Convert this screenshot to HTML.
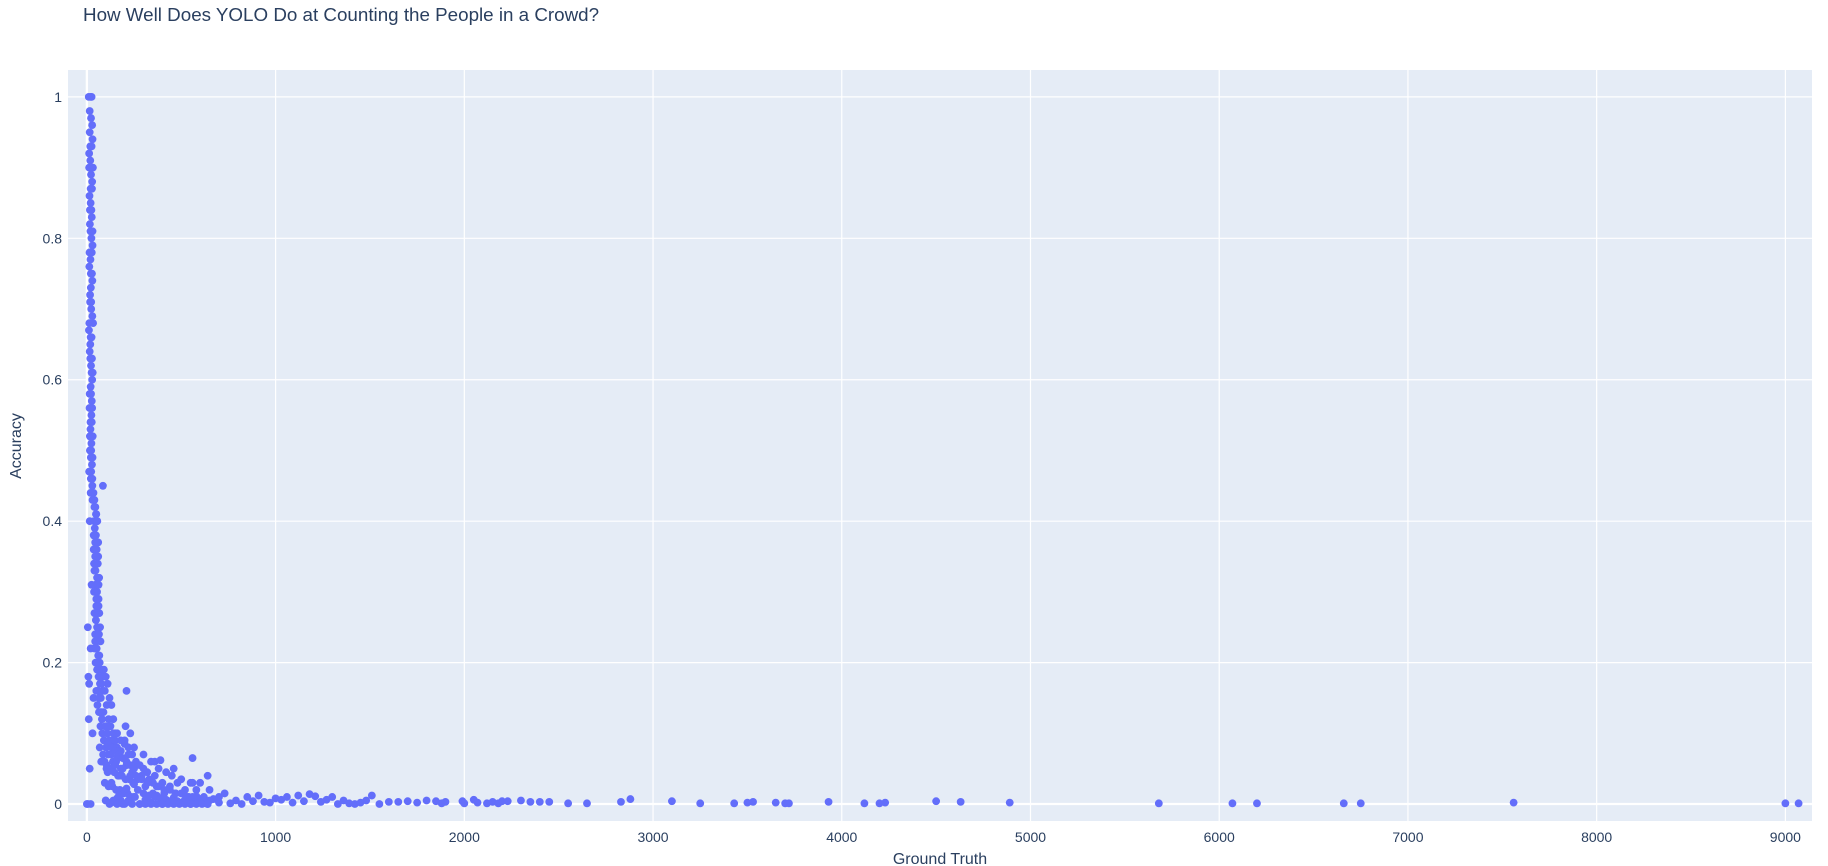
<!DOCTYPE html>
<html><head><meta charset="utf-8"><style>
body{margin:0;background:#fff;}
svg{display:block;font-family:"Liberation Sans",sans-serif;}
</style></head><body>
<svg id="chart" width="1828" height="866">
<rect width="1828" height="866" fill="#fff"/>
<text x="83" y="21" font-size="18.8" fill="#2a3f5f">How Well Does YOLO Do at Counting the People in a Crowd?</text>
<rect x="68" y="70" width="1744" height="751" fill="#e5ecf6"/>
<g id="grid"></g>
<g id="ticks"></g>
<g id="points"></g>
<text x="940" y="864" font-size="16" fill="#2a3f5f" text-anchor="middle">Ground Truth</text>
<text x="0" y="0" font-size="16" fill="#2a3f5f" text-anchor="middle" transform="translate(21,446) rotate(-90)">Accuracy</text>
</svg>
<script>
const xTicks=[0,1000,2000,3000,4000,5000,6000,7000,8000,9000];
const yTicks=[0,0.2,0.4,0.6,0.8,1];
const yTickLabels=["0","0.2","0.4","0.6","0.8","1"];
const gtA=[10,20,25,15,30,12,18,22,28,14,20,26,16,24,30,19,13,27,21,17,23,29,11,25,18,15,22,28,20,26,14,24,19,31,16,23,27,12,21,29];
const accA=[1,1,1,0.95,0.94,0.92,0.91,0.89,0.88,0.86,0.85,0.83,0.82,0.8,0.79,0.77,0.76,0.75,0.73,0.72,0.7,0.69,0.67,0.66,0.65,0.64,0.62,0.6,0.59,0.57,0.56,0.55,0.53,0.52,0.5,0.5,0.48,0.47,0.46,0.45];
const gtB=[35,40,45,50,38,55,42,48,60,36,52,44,58,40,65,46,54,38,62,50,42,56,48,70,44,60,52,40,66,58,5,8,10,15,20,0,5,30,15,25,20,35,30,85,12];
const accB=[0.44,0.43,0.42,0.41,0.4,0.4,0.39,0.38,0.37,0.36,0.35,0.35,0.34,0.33,0.32,0.31,0.3,0.3,0.29,0.28,0.27,0.27,0.26,0.25,0.24,0.24,0.23,0.22,0.21,0.2,0.25,0.18,0.12,0.05,0,0,0,0.43,0.4,0.31,0.22,0.15,0.1,0.45,0.17];
const gtC=[60,75,90,80,100,70,110,85,95,120,65,105,130,78,88,115,140,72,98,125,150,82,108,135,92,118,160,68,102,145,86,112,128,170,94,138,76,155,104,180];
const accC=[0.2,0.19,0.19,0.18,0.18,0.17,0.17,0.16,0.16,0.15,0.15,0.14,0.14,0.13,0.13,0.12,0.12,0.11,0.11,0.11,0.1,0.1,0.1,0.09,0.09,0.09,0.08,0.08,0.08,0.08,0.07,0.07,0.07,0.07,0.06,0.06,0.06,0.06,0.05,0.05];
const gtD=[150,200,250,180,220,300,160,260,340,210,280,380,190,240,320,420,170,230,290,360,450,500,270,330,400,480,550,600,310,370,440,520,580,650,350,410,470,540,620,700,210,230,300,360,390,460,560,640,205,560];
const accD=[0.09,0.085,0.08,0.075,0.07,0.07,0.065,0.06,0.06,0.055,0.055,0.05,0.05,0.045,0.045,0.045,0.04,0.04,0.04,0.04,0.04,0.035,0.035,0.035,0.03,0.03,0.03,0.03,0.025,0.025,0.025,0.02,0.02,0.02,0.015,0.015,0.015,0.01,0.01,0.01,0.16,0.1,0.05,0.06,0.062,0.05,0.03,0.04,0.11,0.065];
const gtE=[100,130,160,190,220,250,280,310,340,370,400,430,460,490,520,550,580,610,640,670,700,730,760,790,820,850,880,910,940,970,1000,1030,1060,1090,1120,1150,1180,1210,1240,1270,1300,1330,1360,1390,1420,1450,1480,1510,1550,1600,1650,1700,1750,1800,1850,1880,1900,1990,2000,2050,2070,2120,2150,2180,2200,2230,2300,2350,2400,2450,2550,2650,2830,2880,3100,3250,3430,3500,3530,3650,3700,3720,3930,4120,4200,4230,4500,4630,4890,5680,6070,6200,6660,6750,7560,9000,9070];
const accE=[0.005,0.002,0.008,0,0.003,0.01,0,0.006,0.002,0.012,0,0.004,0.009,0.001,0.006,0,0.011,0.003,0,0.007,0.002,0.015,0.001,0.005,0,0.01,0.004,0.012,0.003,0.002,0.008,0.006,0.01,0.002,0.012,0.004,0.014,0.011,0.003,0.006,0.01,0,0.005,0.001,0,0.002,0.005,0.012,0,0.003,0.003,0.004,0.002,0.005,0.004,0.001,0.003,0.004,0.001,0.006,0.002,0.001,0.003,0.001,0.004,0.004,0.005,0.003,0.003,0.003,0.001,0.001,0.003,0.007,0.004,0.001,0.001,0.002,0.003,0.002,0.001,0.001,0.003,0.001,0.001,0.002,0.004,0.003,0.002,0.001,0.001,0.001,0.001,0.001,0.002,0.001,0.001];
const gtF=[15,22,28,18,25,32,12,20,27,16,24,30,19,26,14,21,29,17,23,33,13,20,27,18,25,31,15,22,28,19,26,16,24,30,21,17,23,29,20,26];
const accF=[0.98,0.97,0.96,0.93,0.93,0.9,0.9,0.87,0.87,0.84,0.84,0.81,0.81,0.78,0.78,0.75,0.74,0.71,0.71,0.68,0.68,0.66,0.63,0.63,0.61,0.61,0.58,0.58,0.56,0.54,0.54,0.52,0.51,0.49,0.49,0.47,0.47,0.46,0.44,0.44];
const gtG=[40,48,55,36,44,52,60,38,46,54,62,42,50,58,66,40,48,56,64,72,44,52,60,68,46,54,62,70,78,50,58,66,74,48,56,64,72,80,54,62];
const accG=[0.42,0.41,0.4,0.38,0.37,0.36,0.35,0.34,0.33,0.32,0.31,0.3,0.29,0.28,0.27,0.27,0.26,0.25,0.24,0.23,0.23,0.22,0.21,0.2,0.2,0.19,0.18,0.17,0.17,0.16,0.16,0.15,0.15,0.22,0.14,0.13,0.13,0.12,0.25,0.28];
const gtH=[80,100,120,140,160,180,200,220,240,90,110,130,150,170,190,210,230,250,85,105,125,145,165,185,205,225,245,95,115,135,155,175,195,215,235,255,100,140,180,220,120,160,200,240,130,170,210,250,110,150];
const accH=[0.12,0.11,0.11,0.1,0.1,0.09,0.09,0.08,0.07,0.09,0.085,0.08,0.075,0.07,0.065,0.06,0.055,0.05,0.06,0.055,0.05,0.045,0.04,0.04,0.035,0.035,0.03,0.03,0.025,0.025,0.02,0.02,0.015,0.015,0.01,0.01,0.005,0.005,0.005,0.005,0,0,0,0,0.03,0.012,0.022,0.028,0.045,0.055];
const gtI=[260,290,320,350,380,410,440,470,500,530,560,590,620,650,270,300,330,360,390,420,450,480,510,540,570,600,630,280,310,340,370,400,430,460,490,520,550,580,610,640];
const accI=[0.04,0.035,0.03,0.03,0.025,0.02,0.02,0.015,0.015,0.01,0.01,0.008,0.006,0.005,0.02,0.015,0.012,0.01,0.008,0.006,0.005,0.004,0.003,0.003,0.002,0.002,0.001,0,0,0,0,0,0,0,0,0,0,0,0,0];

const NS="http://www.w3.org/2000/svg";
const L=68,T=70,R=1812,B=821;
const xMin=-100,xMax=9141,yMin=-0.024,yMax=1.038;
function xs(v){return L+(v-xMin)/(xMax-xMin)*(R-L);}
function ys(v){return B-(v-yMin)/(yMax-yMin)*(B-T);}
function mk(tag,attrs){const e=document.createElementNS(NS,tag);for(const k in attrs)e.setAttribute(k,attrs[k]);return e;}
const grid=document.getElementById('grid'),ticks=document.getElementById('ticks'),pts=document.getElementById('points');
xTicks.forEach(t=>{
  const l=mk('line',{x1:xs(t),x2:xs(t),y1:T,y2:B,stroke:'#fff','stroke-width':t===0?2.3:1.2});
  
  
  grid.appendChild(l);
  const tx=mk('text',{x:xs(t),y:B+21,'font-size':14,fill:'#2a3f5f','text-anchor':'middle'});
  tx.textContent=String(t);
  
  
  ticks.appendChild(tx);
});
yTicks.forEach((t,i)=>{
  const l=mk('line',{x1:L,x2:R,y1:ys(t),y2:ys(t),stroke:'#fff','stroke-width':t===0?2.3:1.2});
  
  
  grid.appendChild(l);
  const tx=mk('text',{x:L-6,y:ys(t)+5,'font-size':14,fill:'#2a3f5f','text-anchor':'end'});
  tx.textContent=yTickLabels[i];
  
  
  ticks.appendChild(tx);
});
[[gtA,accA],[gtB,accB],[gtC,accC],[gtD,accD],[gtE,accE],[gtF,accF],[gtG,accG],[gtH,accH],[gtI,accI]].forEach(([g,a])=>{
  const n=Math.min(g.length,a.length);
  for(let i=0;i<n;i++){
    const c=mk('circle',{cx:xs(g[i]),cy:ys(a[i]),r:3.9,fill:'#636efa'});
    
    
    pts.appendChild(c);
  }
});
</script>
</body></html>
